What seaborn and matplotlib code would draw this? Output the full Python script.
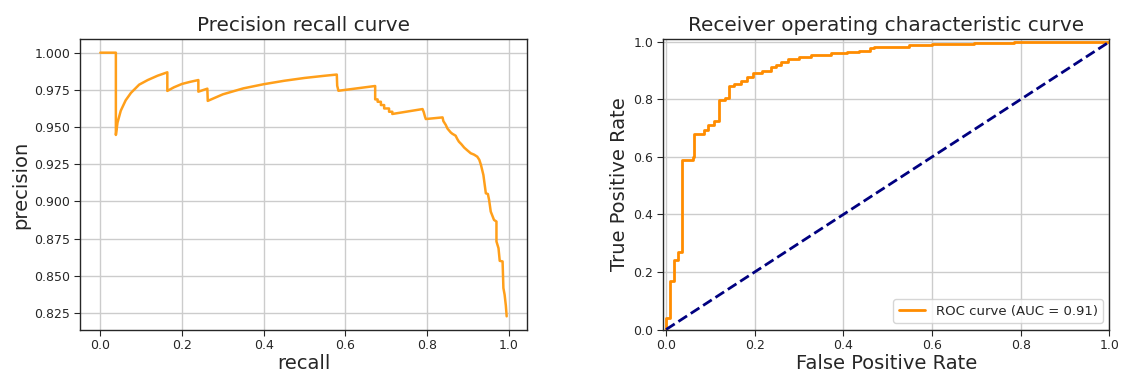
import numpy as np
import pandas as pd
import matplotlib
matplotlib.use("Agg")
import matplotlib.pyplot as plt
import seaborn as sns

# Precision / recall operating points (ordered by decreasing threshold)
recall = [
    0.000, 0.038, 0.038, 0.042, 0.050, 0.062, 0.075, 0.095, 0.116, 0.140,
    0.164, 0.164, 0.180, 0.200, 0.220, 0.240, 0.240, 0.262, 0.263, 0.300,
    0.350, 0.400, 0.450, 0.500, 0.550, 0.579, 0.580, 0.583, 0.673, 0.673,
    0.679, 0.679, 0.687, 0.687, 0.695, 0.695, 0.707, 0.707, 0.715, 0.715,
    0.789, 0.792, 0.795, 0.797, 0.838, 0.840, 0.846, 0.850, 0.858, 0.862,
    0.870, 0.874, 0.878, 0.884, 0.891, 0.898, 0.907, 0.915, 0.923, 0.928,
    0.932, 0.938, 0.944, 0.949, 0.952, 0.956, 0.964, 0.970, 0.970, 0.975,
    0.978, 0.985, 0.987, 0.990, 0.993, 0.995,
]
precision = [
    1.0000, 1.0000, 0.9447, 0.9530, 0.9610, 0.9680, 0.9730, 0.9785, 0.9816, 0.9845,
    0.9868, 0.9743, 0.9767, 0.9790, 0.9804, 0.9816, 0.9738, 0.9758, 0.9676, 0.9720,
    0.9760, 0.9788, 0.9811, 0.9830, 0.9845, 0.9853, 0.9778, 0.9744, 0.9776, 0.9686,
    0.9686, 0.9670, 0.9670, 0.9648, 0.9648, 0.9625, 0.9625, 0.9603, 0.9603, 0.9588,
    0.9621, 0.9600, 0.9570, 0.9554, 0.9565, 0.9540, 0.9514, 0.9490, 0.9464, 0.9455,
    0.9442, 0.9420, 0.9402, 0.9385, 0.9362, 0.9345, 0.9324, 0.9315, 0.9301, 0.9280,
    0.9246, 0.9178, 0.9055, 0.9050, 0.9010, 0.8932, 0.8876, 0.8865, 0.8731, 0.8686,
    0.8601, 0.8597, 0.8418, 0.8373, 0.8300, 0.8228,
]

# ROC curve corners: false positive rate where each step occurs and the new TPR
fpr = [
    0.000, 0.000, 0.010, 0.019, 0.027, 0.035, 0.060, 0.063, 0.086, 0.094,
    0.109, 0.120, 0.132, 0.143, 0.154, 0.169, 0.183, 0.195, 0.216, 0.236,
    0.248, 0.259, 0.275, 0.300, 0.326, 0.371, 0.409, 0.435, 0.461, 0.469,
    0.548, 0.600, 0.694, 0.784, 1.000,
]
tpr = [
    0.000, 0.040, 0.170, 0.243, 0.268, 0.588, 0.598, 0.681, 0.695, 0.710,
    0.725, 0.797, 0.803, 0.845, 0.855, 0.864, 0.878, 0.890, 0.899, 0.912,
    0.920, 0.930, 0.939, 0.948, 0.954, 0.960, 0.963, 0.969, 0.977, 0.983,
    0.988, 0.993, 0.997, 1.000, 1.000,
]
roc_auc = 0.91
chance = [0.0, 1.0]

pr_df = pd.DataFrame({"recall": recall, "precision": precision})
roc_df = pd.DataFrame({"fpr": fpr, "tpr": tpr})

sns.set_style("ticks")
plt.rcParams["font.family"] = ["DejaVu Sans"]

fig = plt.figure(figsize=(11.21, 3.75), dpi=100)
ax1 = fig.add_axes([0.0714, 0.1213, 0.3987, 0.7734])
ax2 = fig.add_axes([0.5914, 0.1213, 0.3983, 0.7734])

grid_kw = dict(color="#cccccc", linewidth=1.0)

# Precision-recall curve
sns.lineplot(data=pr_df, x="recall", y="precision", ax=ax1, sort=False,
             estimator=None, color="#ff9f1a", linewidth=1.8)
ax1.set_title("Precision recall curve", fontsize=14.4, color=".15")
ax1.set_xlabel("recall", fontsize=14, labelpad=1)
ax1.set_ylabel("precision", fontsize=14, labelpad=3)
ax1.set_xticks(np.arange(0, 1.01, 0.2))
ax1.set_yticks(np.arange(0.825, 1.0001, 0.025))
ax1.set_yticklabels([f"{v:.3f}" for v in np.arange(0.825, 1.0001, 0.025)])
ax1.margins(x=0.05, y=0.05)
ax1.grid(True, **grid_kw)

# ROC curve
sns.lineplot(data=roc_df, x="fpr", y="tpr", ax=ax2, sort=False, estimator=None,
             drawstyle="steps-post", color="darkorange", linewidth=2,
             label=f"ROC curve (AUC = {roc_auc:.2f})")
sns.lineplot(x=chance, y=chance, ax=ax2, color="navy", linewidth=2,
             linestyle="--", estimator=None, sort=False)
ax2.set_xlim(-0.007, 1.0)
ax2.set_ylim(0.0, 1.008)
ax2.set_xticks(np.arange(0, 1.01, 0.2))
ax2.set_yticks(np.arange(0, 1.01, 0.2))
ax2.set_title("Receiver operating characteristic curve", fontsize=14.4, color=".15")
ax2.set_xlabel("False Positive Rate", fontsize=14, labelpad=1)
ax2.set_ylabel("True Positive Rate", fontsize=14, labelpad=3)
ax2.grid(True, **grid_kw)
ax2.legend(loc="lower right", fontsize=9.5)

for ax in (ax1, ax2):
    ax.tick_params(labelsize=9, length=4, pad=3)
    for s in ax.spines.values():
        s.set_visible(True)
        s.set_color(".15")
        s.set_linewidth(1.0)

fig.savefig("out.png", dpi=100)
